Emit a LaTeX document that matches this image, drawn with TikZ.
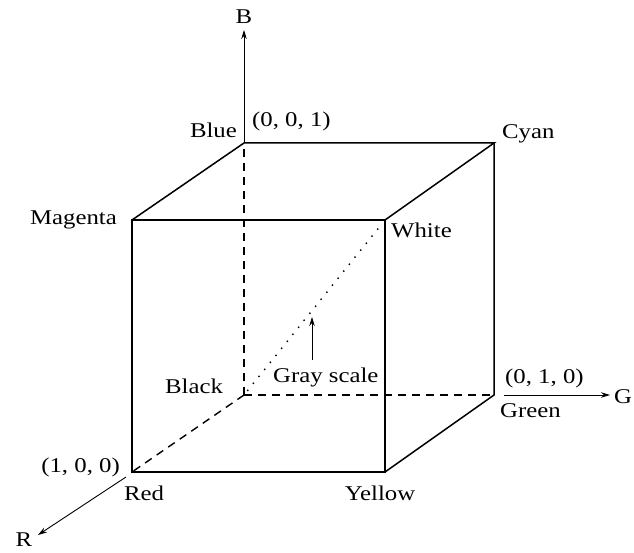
\documentclass[tikz,border=0pt]{standalone}
\usepackage{fontspec}
\usepackage{graphicx}
\setmainfont{Liberation Serif}
\usetikzlibrary{arrows.meta}
\newcommand\stxt[1]{\scalebox{1.18}[1]{#1}}
\begin{document}
\begin{tikzpicture}[x=1pt,y=-1pt,
  edge/.style={line width=1.5pt, line join=miter},
  hidden/.style={line width=1.4pt, dash pattern=on 8pt off 6pt},
  dotline/.style={line width=2pt, dash pattern=on 0pt off 9pt, line cap=round},
  axis/.style={line width=0.9pt,-{Stealth[length=9pt,width=5.5pt]}},
  lbl/.style={inner sep=0pt, font=\fontsize{21}{25}\selectfont}]
\useasboundingbox (0,0) rectangle (634,553);
% cube corners
\coordinate (red) at (132,472);
\coordinate (yel) at (385,472);
\coordinate (wht) at (385,220);
\coordinate (mag) at (132,220);
\coordinate (blk) at (244,395);
\coordinate (grn) at (494,395);
\coordinate (cyn) at (494,143);
\coordinate (blu) at (244,143);
% axis ends
\coordinate (btip) at (244,30);
\coordinate (gstart) at (504,395);
\coordinate (gtip) at (610,395);
\coordinate (rstart) at (126,477);
\coordinate (rtip) at (38,535);
\coordinate (gsa) at (312,360);
\coordinate (gsb) at (312,317);
% hidden edges
\draw[hidden] (blk) -- (blu);
\draw[hidden] (blk) -- (grn);
\draw[hidden] (blk) -- (red);
% gray diagonal
\draw[dotline, shorten <=6pt, shorten >=6pt] (blk) -- (wht);
% visible edges
\draw[edge] (mag) -- (wht) -- (yel) -- (red) -- cycle;
\draw[edge] (mag) -- (blu) -- (cyn) -- (wht);
\draw[edge] (cyn) -- (grn) -- (yel);
% axes
\draw[axis] (blu) -- (btip);
\draw[axis] (gstart) -- (gtip);
\draw[axis] (rstart) -- (rtip);
\draw[axis] (gsa) -- (gsb);
% labels
\node[lbl, anchor=base] (lB) at (244,24) {\stxt{B}};
\node[lbl, anchor=base east] (lblue) at (237,138) {\stxt{Blue}};
\node[lbl, anchor=base west] (l001) at (252,127) {\stxt{(0, 0, 1)}};
\node[lbl, anchor=base west] (lcyan) at (502,139) {\stxt{Cyan}};
\node[lbl, anchor=base east] (lmag) at (117,225) {\stxt{Magenta}};
\node[lbl, anchor=base west] (lwhite) at (391,238) {\stxt{White}};
\node[lbl, anchor=base west] (lblack) at (165,393) {\stxt{Black}};
\node[lbl, anchor=base west] (lgray) at (273,382) {\stxt{Gray scale}};
\node[lbl, anchor=base west] (l010) at (505,383) {\stxt{(0, 1, 0)}};
\node[lbl, anchor=base west] (lgreen) at (500,417) {\stxt{Green}};
\node[lbl, anchor=base west] (lG) at (614,403) {\stxt{G}};
\node[lbl, anchor=base east] (l100) at (120,472) {\stxt{(1, 0, 0)}};
\node[lbl, anchor=base west] (lred) at (124,500) {\stxt{Red}};
\node[lbl, anchor=base] (lyellow) at (380,500) {\stxt{Yellow}};
\node[lbl, anchor=base] (lR) at (24,546) {\stxt{R}};
\end{tikzpicture}
\end{document}
